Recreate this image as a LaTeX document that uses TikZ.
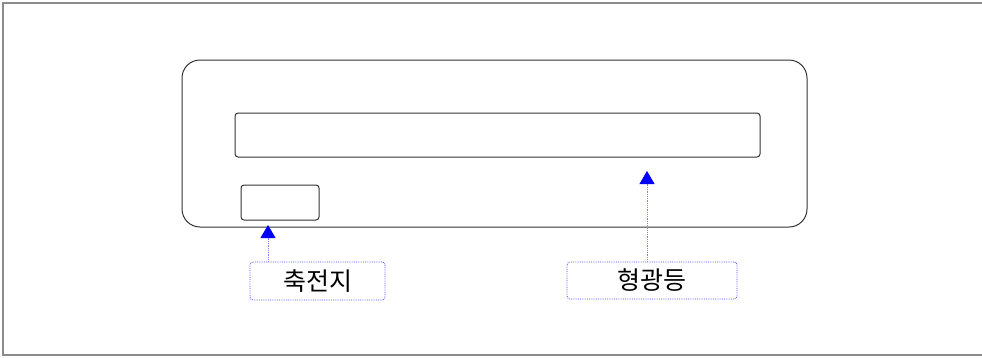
\documentclass[tikz,border=0pt]{standalone}
\usepackage{fontspec}
\newfontfamily\kor{Noto Sans CJK KR}
\usetikzlibrary{arrows.meta}
\begin{document}
\begin{tikzpicture}[x=1pt,y=-1pt,
  frame/.style={draw=gray!90,line width=2.2pt},
  body/.style={draw=black!80,line width=1pt},
  lbl/.style={draw=blue!70,densely dotted,line width=0.8pt,rounded corners=3pt,inner sep=0pt,font=\kor\fontsize{25}{28}\selectfont},
  ptr/.style={draw=blue!50,densely dotted,line width=0.8pt,-{Triangle[fill=blue,color=blue,length=13pt,width=15pt]}}]
\useasboundingbox (0,0) rectangle (982,357);
\draw[frame] (982,3) -- (3,3) -- (3,355) -- (982,355);
\draw[body,rounded corners=18pt] (182,60) rectangle (807,227);
\draw[body,rounded corners=3pt] (235,113) rectangle (760,157);
\draw[body,rounded corners=3pt] (241,185) rectangle (319,220);
\node[lbl,minimum width=135pt,minimum height=38pt] (l1) at (317.5,281) {축전지};
\node[lbl,minimum width=170pt,minimum height=37pt] (l2) at (652,280.5) {형광등};
\coordinate (t1) at (268,225);
\coordinate (t2) at (647,171);
\draw[ptr] (l1.north -| t1) -- (t1);
\draw[ptr] (l2.north -| t2) -- (t2);
\end{tikzpicture}
\end{document}
